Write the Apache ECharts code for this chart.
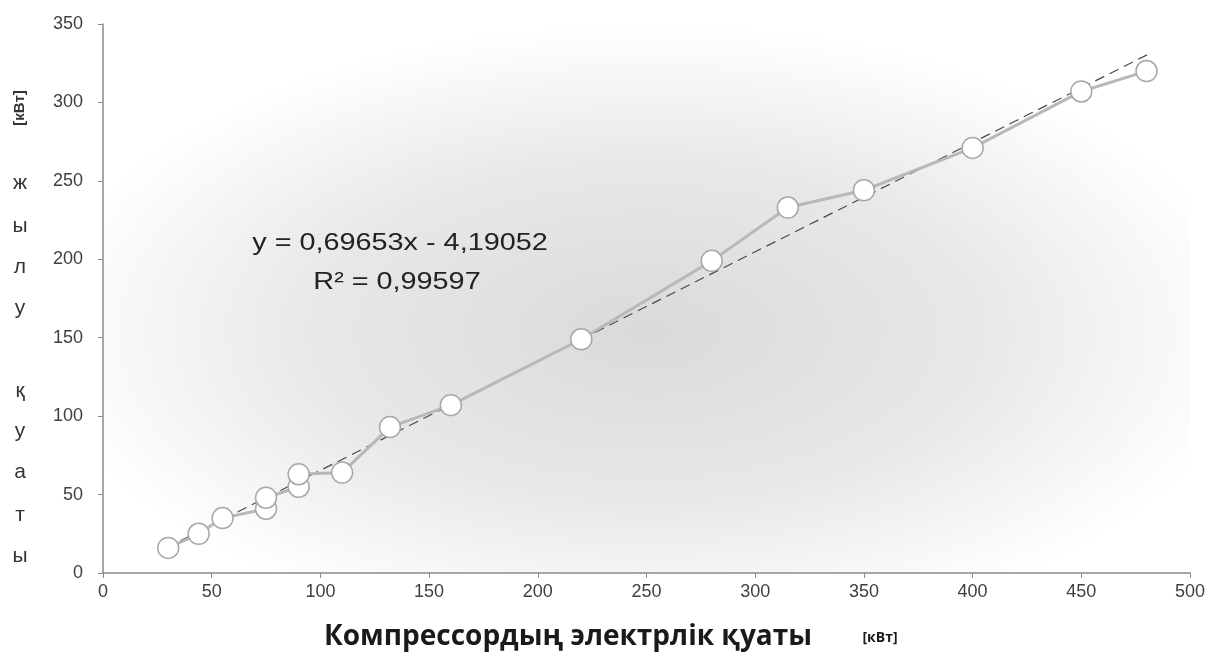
<!DOCTYPE html>
<html>
<head>
    <meta charset="UTF-8">
    <script src="https://cdn.jsdelivr.net/npm/echarts@6/dist/echarts.min.js"></script>
    <style>
        html, body { margin: 0; padding: 0; background: #fff; }
        #chart { width: 1223px; height: 661px; }
    </style>
</head>
<body>
<div id="chart"></div>
<script type="text/javascript">
    // компрессор қуаты (x) және жылу қуаты (y), кВт
    var powerIn = [30, 44, 55, 75, 75, 90, 90, 110, 132, 160, 220, 280, 315, 350, 400, 450, 480];
    var heatOut = [16, 25, 35, 41, 48, 55, 63, 64, 93, 107, 149, 199, 233, 244, 271, 307, 320];

    // трендтің коэффициенттері (суреттегі теңдеуден)
    var slope = 0.69653;
    var intercept = -4.19052;
    var trendRange = [29, 481];

    var eqText = 'y = 0,69653x - 4,19052';
    var r2Text = 'R² = 0,99597';
    var yTitleLetters = ['ж', 'ы', 'л', 'у', 'қ', 'у', 'а', 'т', 'ы'];
    var yTitleRows = [183, 226, 267, 308, 391, 431, 472, 515, 556];

    var points = powerIn.map(function (x, i) { return [x, heatOut[i]]; });
    var trend = trendRange.map(function (x) { return [x, slope * x + intercept]; });

    var chart = echarts.init(document.getElementById('chart'), null, { renderer: 'canvas' });

    var labelFont = { color: '#404040', fontFamily: 'Liberation Sans, Arial', fontSize: 18 };
    var axisLine = { lineStyle: { color: '#8a8a8a', width: 1.5 } };

    // фон: ортадан шетке қарай ағаратын сұр градиент (эллипс)
    var plotW = 1087, plotH = 549;
    var graphics = [
        {
            type: 'rect', x: 103, y: 24, scaleX: plotW / plotH, z: -10, silent: true,
            shape: { x: 0, y: 0, width: plotH, height: plotH },
            style: {
                fill: {
                    type: 'radial', x: 0.5, y: 0.56, r: 0.56,
                    colorStops: [
                        { offset: 0, color: '#dadada' },
                        { offset: 0.55, color: '#e8e8e8' },
                        { offset: 1, color: '#ffffff' }
                    ]
                }
            }
        },
        {
            type: 'text', x: 400, y: 243, scaleX: 1.2,
            style: { text: eqText, font: '24px "Liberation Sans", Arial', fill: '#222',
                     textAlign: 'center', textVerticalAlign: 'middle' }
        },
        {
            type: 'text', x: 397, y: 282, scaleX: 1.2,
            style: { text: r2Text, font: '24px "Liberation Sans", Arial', fill: '#222',
                     textAlign: 'center', textVerticalAlign: 'middle' }
        },
        {
            type: 'text', x: 568, y: 637,
            style: { text: 'Компрессордың электрлік қуаты', font: 'bold 28px "Open Sans"', fill: '#1a1a1a',
                     textAlign: 'center', textVerticalAlign: 'middle' }
        },
        {
            type: 'text', x: 880, y: 638,
            style: { text: '[кВт]', font: 'bold 14px "Open Sans"', fill: '#1a1a1a',
                     textAlign: 'center', textVerticalAlign: 'middle' }
        },
        {
            type: 'text', x: 20, y: 108, rotation: Math.PI / 2,
            style: { text: '[кВт]', font: 'bold 15px "Liberation Sans", Arial', fill: '#333',
                     textAlign: 'center', textVerticalAlign: 'middle' }
        }
    ];
    yTitleLetters.forEach(function (ch, i) {
        graphics.push({
            type: 'text', x: 20, y: yTitleRows[i],
            style: { text: ch, font: '21px "Liberation Sans", Arial', fill: '#333',
                     textAlign: 'center', textVerticalAlign: 'middle' }
        });
    });

    var option = {
        backgroundColor: '#ffffff',
        animation: false,
        grid: { left: 103, right: 33, top: 24, bottom: 88 },
        xAxis: {
            type: 'value', min: 0, max: 500, interval: 50,
            axisLine: axisLine,
            axisTick: { show: true, length: 5, lineStyle: { color: '#8a8a8a' } },
            axisLabel: Object.assign({ margin: 10 }, labelFont),
            splitLine: { show: false }
        },
        yAxis: {
            type: 'value', min: 0, max: 350, interval: 50,
            axisLine: Object.assign({ show: true }, axisLine),
            axisTick: { show: true, length: 5, lineStyle: { color: '#8a8a8a' } },
            axisLabel: Object.assign({ margin: 20 }, labelFont),
            splitLine: { show: false }
        },
        series: [
            {
                type: 'line',
                data: trend,
                symbol: 'none',
                lineStyle: { color: '#4a4a4a', width: 1.2, type: [10, 6] },
                z: 3
            },
            {
                type: 'line',
                data: points,
                symbol: 'circle',
                symbolSize: 21,
                lineStyle: { color: '#b8b8b8', width: 3 },
                itemStyle: { color: '#ffffff', borderColor: '#a8a8a8', borderWidth: 1.5 },
                z: 4
            }
        ],
        graphic: graphics
    };

    if (option && typeof option === 'object') {
        chart.setOption(option);
    }
    window.addEventListener('resize', chart.resize);
</script>
</body>
</html>
